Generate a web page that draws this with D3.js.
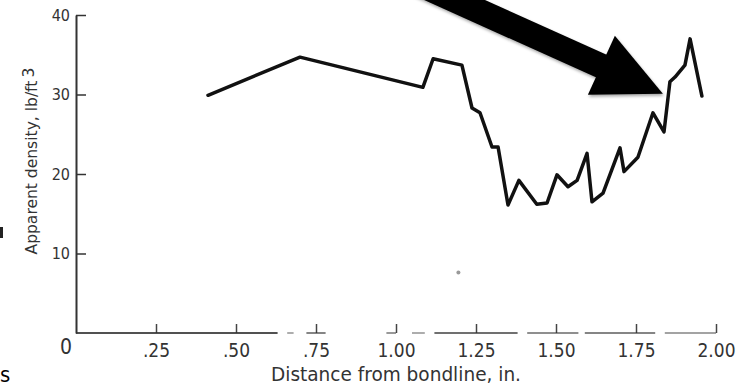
<!DOCTYPE html>
<html>
<head>
<meta charset="utf-8">
<script src="https://cdn.jsdelivr.net/npm/d3@7"></script>
<style>
  body { margin: 0; background: #fff; }
  svg { display: block; }
  text { font-family: "Liberation Sans Narrow", "DejaVu Sans Condensed", "Arial Narrow", "Liberation Sans", sans-serif; }
</style>
</head>
<body>
<div id="chart"></div>
<script>
// Apparent density vs distance from bondline
const distance = [0.4125, 0.70, 1.084, 1.116, 1.206, 1.2375, 1.2625, 1.30, 1.319, 1.35,
                  1.384, 1.44, 1.472, 1.503, 1.5375, 1.566, 1.597, 1.6125, 1.647, 1.70,
                  1.7125, 1.756, 1.803, 1.8375, 1.856, 1.872, 1.903, 1.919, 1.956];
const density = [29.9, 34.7, 30.9, 34.5, 33.7, 28.3, 27.7, 23.4, 23.4, 16.1,
                 19.2, 16.2, 16.35, 19.9, 18.4, 19.2, 22.6, 16.5, 17.6, 23.3,
                 20.3, 22.1, 27.7, 25.3, 31.6, 32.2, 33.7, 37.0, 29.8];

const xTicks = [0.25, 0.5, 0.75, 1.0, 1.25, 1.5, 1.75, 2.0];
const xTickLabels = [".25", ".50", ".75", "1.00", "1.25", "1.50", "1.75", "2.00"];
const yTicks = [10, 20, 30, 40];

// pieces of the scanned x axis line that survived (in inches)
const axisPieces = [[0, 0.63, 0.85], [0.66, 0.68, 0.4], [0.72, 0.78, 0.6], [0.97, 1.0, 0.5],
                    [1.05, 1.09, 0.4], [1.12, 1.38, 0.7], [1.41, 1.57, 0.55], [1.59, 1.81, 0.6], [1.84, 2.0, 0.45]];

const width = 737, height = 387;

const svg = d3.select("#chart").append("svg")
    .attr("width", width)
    .attr("height", height);

const x = d3.scaleLinear().domain([0, 2]).range([76, 716]);
const y = d3.scaleLinear().domain([0, 40]).range([333, 15]);

// soft shadow for the arrow
const defs = svg.append("defs");
defs.append("filter").attr("id", "shadow")
    .append("feDropShadow")
    .attr("dx", 1).attr("dy", 2).attr("stdDeviation", 1.5)
    .attr("flood-color", "#000").attr("flood-opacity", 0.35);

// y axis, ticks pointing inward
const yAxis = svg.append("g")
    .attr("transform", `translate(${x(0)},0)`)
    .call(d3.axisLeft(y).tickValues(yTicks).tickSize(-10).tickSizeOuter(0).tickPadding(6));
yAxis.select(".domain").attr("stroke", "#333").attr("stroke-width", 2);
yAxis.selectAll(".tick line").attr("stroke", "#333").attr("stroke-width", 1.5);
yAxis.selectAll(".tick text").attr("font-size", 16).attr("fill", "#333");

// x axis ticks + labels (no domain, it's drawn in pieces below)
const xAxis = svg.append("g")
    .attr("transform", `translate(0,${y(0)})`)
    .call(d3.axisBottom(x).tickValues(xTicks).tickSize(-9).tickSizeOuter(0).tickPadding(11)
        .tickFormat((d, i) => xTickLabels[i]));
xAxis.select(".domain").remove();
xAxis.selectAll(".tick line").attr("stroke", "#444").attr("stroke-width", 1.5);
xAxis.selectAll(".tick text").attr("font-size", 19).attr("fill", "#333");

svg.append("g").selectAll("line")
    .data(axisPieces)
    .enter().append("line")
    .attr("x1", d => x(d[0])).attr("x2", d => x(d[1]))
    .attr("y1", y(0)).attr("y2", y(0))
    .attr("stroke", "#333")
    .attr("stroke-opacity", d => d[2])
    .attr("stroke-width", 2);

// the lone "0" at the origin
svg.append("text")
    .attr("x", x(0) - 10).attr("y", y(0) + 21)
    .attr("text-anchor", "middle")
    .attr("font-size", 21).attr("fill", "#333")
    .text("0");

// axis titles
svg.append("text")
    .attr("x", x(1)).attr("y", 381)
    .attr("text-anchor", "middle")
    .attr("font-size", 19).attr("fill", "#333")
    .attr("textLength", 250).attr("lengthAdjust", "spacingAndGlyphs")
    .text("Distance from bondline, in.");

const yTitle = svg.append("text")
    .attr("transform", "translate(37,161) rotate(-90)")
    .attr("text-anchor", "middle")
    .attr("font-size", 16).attr("fill", "#333")
    .attr("textLength", 187).attr("lengthAdjust", "spacingAndGlyphs");
yTitle.append("tspan").text("Apparent density, lb/ft");
yTitle.append("tspan").attr("dx", 3).attr("dy", -3).text("3");

// density curve
const line = d3.line()
    .x((d, i) => x(distance[i]))
    .y(d => y(d));

svg.append("path")
    .datum(density)
    .attr("fill", "none")
    .attr("stroke", "#111")
    .attr("stroke-width", 3.5)
    .attr("stroke-linejoin", "round")
    .attr("stroke-linecap", "round")
    .attr("d", line);

// stray speck in the scan
svg.append("circle")
    .attr("cx", x(1.195)).attr("cy", y(7.6)).attr("r", 2)
    .attr("fill", "#999");

// big annotation arrow pointing at the rise near 1.85 in.
const tipX = x(1.834), tipY = y(30.1);
const arrow = svg.append("g").attr("filter", "url(#shadow)");
arrow.append("line")
    .attr("x1", tipX - 260).attr("y1", tipY - 117)
    .attr("x2", tipX - 58).attr("y2", tipY - 26)
    .attr("stroke", "#000").attr("stroke-width", 25);
arrow.append("path")
    .attr("d", `M${tipX},${tipY} L${tipX - 48},${tipY - 58} L${tipX - 75},${tipY + 1} Z`)
    .attr("fill", "#000");

// fragments of slide text at the left edge
svg.append("rect")
    .attr("x", 0).attr("y", 227).attr("width", 3).attr("height", 11)
    .attr("fill", "#222");
svg.append("text")
    .attr("x", 0).attr("y", 382)
    .attr("font-family", "Liberation Sans, Arial, sans-serif")
    .attr("font-size", 22).attr("fill", "#000")
    .text("s");
</script>
</body>
</html>
